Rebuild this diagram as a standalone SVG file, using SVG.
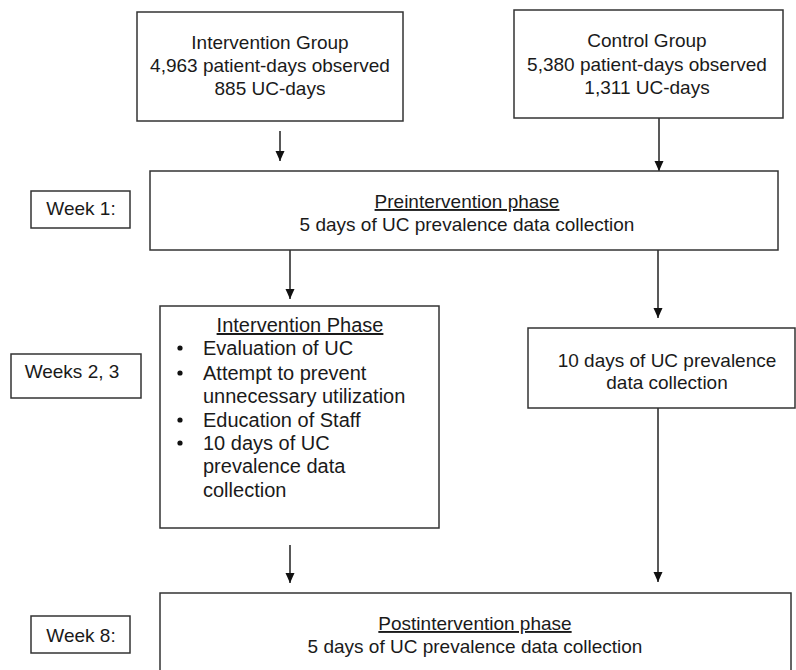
<svg xmlns="http://www.w3.org/2000/svg" width="796" height="670" viewBox="0 0 796 670">
<style>
.box{fill:#fff;stroke:#333;stroke-width:1.5}
.t{font-family:"Liberation Sans",Arial,sans-serif;font-size:19px;fill:#1a1a1a}
.m{text-anchor:middle}
.b{font-size:20px}
.u{text-decoration:underline}
.c{stroke:#222;stroke-width:1.5;fill:none}
</style>
<defs>
<marker id="ah" markerUnits="userSpaceOnUse" markerWidth="10" markerHeight="10" refX="10" refY="4.5" orient="auto">
<path d="M0,0 L10,4.5 L0,9 z" fill="#111"/>
</marker>
</defs>
<rect x="0" y="0" width="796" height="670" fill="#fff"/>
<g id="connectors">
<line class="c" x1="280" y1="131" x2="280" y2="161" marker-end="url(#ah)"/>
<line class="c" x1="659" y1="118" x2="659" y2="171" marker-end="url(#ah)"/>
<line class="c" x1="290" y1="250" x2="290" y2="299" marker-end="url(#ah)"/>
<line class="c" x1="658" y1="250" x2="658" y2="318" marker-end="url(#ah)"/>
<line class="c" x1="290" y1="545" x2="290" y2="583" marker-end="url(#ah)"/>
<line class="c" x1="658" y1="408" x2="658" y2="582" marker-end="url(#ah)"/>
</g>
<g id="intervention-group">
<rect class="box" x="137" y="12" width="266" height="109"/>
<text class="t m" x="270" y="49">Intervention Group</text>
<text class="t m" x="270" y="72">4,963 patient-days observed</text>
<text class="t m" x="270" y="95">885 UC-days</text>
</g>
<g id="control-group">
<rect class="box" x="514" y="10" width="269" height="108"/>
<text class="t m" x="647" y="47">Control Group</text>
<text class="t m" x="647" y="70.5">5,380 patient-days observed</text>
<text class="t m" x="647" y="94">1,311 UC-days</text>
</g>
<g id="week1">
<rect class="box" x="31" y="191" width="99" height="37"/>
<text class="t m" x="81" y="215">Week 1:</text>
</g>
<g id="preintervention">
<rect class="box" x="150" y="171" width="628" height="79"/>
<text class="t m u" x="467" y="208">Preintervention phase</text>
<text class="t m" x="467" y="231">5 days of UC prevalence data collection</text>
</g>
<g id="weeks23">
<rect class="box" x="11" y="354" width="130" height="44"/>
<text class="t m" x="72" y="378">Weeks 2, 3</text>
</g>
<g id="intervention-phase">
<rect class="box" x="160" y="306" width="279" height="222"/>
<text class="t b m u" x="300" y="332">Intervention Phase</text>
<circle cx="180" cy="348" r="2.6" fill="#111"/>
<circle cx="180" cy="373" r="2.6" fill="#111"/>
<circle cx="180" cy="420" r="2.6" fill="#111"/>
<circle cx="180" cy="443" r="2.6" fill="#111"/>
<text class="t b" x="203" y="355">Evaluation of UC</text>
<text class="t b" x="203" y="380">Attempt to prevent</text>
<text class="t b" x="203" y="403">unnecessary utilization</text>
<text class="t b" x="203" y="427">Education of Staff</text>
<text class="t b" x="203" y="450">10 days of UC</text>
<text class="t b" x="203" y="473">prevalence data</text>
<text class="t b" x="203" y="497">collection</text>
</g>
<g id="control-phase">
<rect class="box" x="528" y="328" width="267" height="80"/>
<text class="t m" x="667" y="367">10 days of UC prevalence</text>
<text class="t m" x="667" y="389">data collection</text>
</g>
<g id="week8">
<rect class="box" x="31" y="616" width="99" height="37"/>
<text class="t m" x="81" y="642">Week 8:</text>
</g>
<g id="postintervention">
<rect class="box" x="160" y="593" width="631" height="90"/>
<text class="t m u" x="475" y="630">Postintervention phase</text>
<text class="t m" x="475" y="653">5 days of UC prevalence data collection</text>
</g>
</svg>
